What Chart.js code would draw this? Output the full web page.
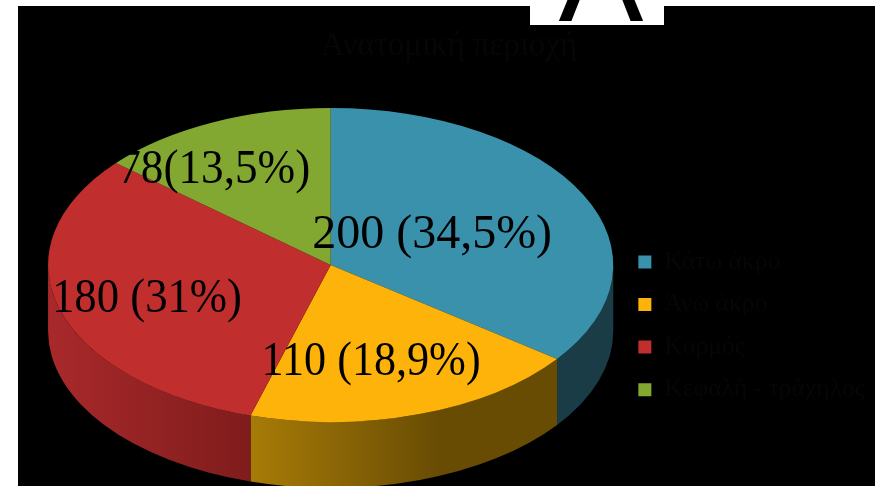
<!DOCTYPE html>
<html>
<head>
<meta charset="utf-8">
<style>
html, body { margin: 0; padding: 0; background: #fff; overflow: hidden; }
#myChart { position: absolute; left: 18px; top: 6px; background: #000; }
#logo { position: absolute; left: 530px; top: 0; width: 134px; height: 25px; background: #fff; overflow: hidden; }
#logo span { position: absolute; left: 4px; width: 134px; bottom: -16px; text-align: center; font: 128px/1 "Liberation Sans"; color: #000; }
</style>
<script src="https://cdn.jsdelivr.net/npm/chart.js@4/dist/chart.umd.min.js"></script>
</head>
<body>
<canvas id="myChart" width="857" height="480"></canvas>
<div id="logo"><span>Λ</span></div>
<script>
const categories = ['Κάτω άκρο', 'Άνω άκρο', 'Κορμός', 'Κεφαλή - τράχηλος'];
const counts = [200, 110, 180, 78];
const valueLabels = ['200 (34,5%)', '110 (18,9%)', '180 (31%)', '78(13,5%)'];
const topColors = ['#3a91ab', '#fdb309', '#c12e2e', '#82a832'];
// left and right colour of the side wall
const wallColors = [
    ['#1a3c46', '#1a3c46'],
    ['#a87b07', '#684c04'],
    ['#a9292b', '#7f1c1c'],
    ['#4f6a1c', '#4f6a1c']
];
// label position as a fraction of the ellipse radii, and the width it may take
const labelPlaces = [[0.359, -0.191], [0.143, 0.618], [-0.650, 0.217], [-0.412, -0.605]];
const labelWidths = [242, 219, 190, 192];

const squash = 1.8;   // horizontal stretch of the round pie
const depth = 66;     // height of the wall

const pie3d = {
    id: 'pie3d',
    afterLayout(chart) {
        // lifts the legend a little, it is aligned to the end of its box
        chart.legend.columnSizes.forEach(col => { col.height += 2.5; });
        // the left padding is only meant for the pie, not for the title
        chart.titleBlock.left -= 17;
    },
    beforeDatasetsDraw(chart) {
        const ctx = chart.ctx;
        const arcs = chart.getDatasetMeta(0).data;
        arcs.forEach((arc, i) => {
            const a = Math.max(arc.startAngle, 0);
            const b = Math.min(arc.endAngle, Math.PI);
            if (b <= a) return;
            const rx = arc.outerRadius * squash;
            const ry = arc.outerRadius;
            const x1 = arc.x + Math.cos(a) * rx;
            const x2 = arc.x + Math.cos(b) * rx;
            const grad = ctx.createLinearGradient(Math.min(x1, x2), 0, Math.max(x1, x2), 0);
            grad.addColorStop(0, wallColors[i][0]);
            grad.addColorStop(i === 1 ? 0.62 : 1, wallColors[i][1]);
            if (i === 1) grad.addColorStop(1, wallColors[i][1]);
            ctx.beginPath();
            ctx.ellipse(arc.x, arc.y, rx, ry, 0, a, b);
            ctx.ellipse(arc.x, arc.y + depth, rx, ry, 0, b, a, true);
            ctx.closePath();
            ctx.fillStyle = grad;
            ctx.fill();
        });
        const c = arcs[0];
        ctx.save();
        ctx.translate(c.x, c.y);
        ctx.scale(squash, 1);
        ctx.translate(-c.x, -c.y);
    },
    afterDatasetsDraw(chart) {
        const ctx = chart.ctx;
        ctx.restore();
        const c = chart.getDatasetMeta(0).data[0];
        ctx.font = '48px "Liberation Serif"';
        ctx.fillStyle = '#000';
        ctx.textAlign = 'center';
        ctx.textBaseline = 'middle';
        valueLabels.forEach((t, i) => {
            ctx.fillText(t, c.x + labelPlaces[i][0] * c.outerRadius * squash, c.y + labelPlaces[i][1] * c.outerRadius, labelWidths[i]);
        });
    }
};

new Chart(document.getElementById('myChart'), {
    type: 'pie',
    data: {
        labels: categories,
        datasets: [{ data: counts, backgroundColor: topColors, borderWidth: 0 }]
    },
    options: {
        responsive: false,
        animation: false,
        layout: { padding: { left: 22, bottom: 64 } },
        plugins: {
            tooltip: { enabled: false },
            title: {
                display: true,
                text: 'Ανατομική περιοχή',
                color: '#060606',
                font: { family: 'Liberation Serif', size: 33, weight: 'normal' },
                padding: { top: 21, bottom: 41.4 }
            },
            legend: {
                position: 'right',
                align: 'end',
                labels: {
                    color: '#060606',
                    boxWidth: 13,
                    boxHeight: 13,
                    padding: 17,
                    font: { family: 'Liberation Serif', size: 25.6 }
                }
            }
        }
    },
    plugins: [pie3d]
});
</script>
</body>
</html>
